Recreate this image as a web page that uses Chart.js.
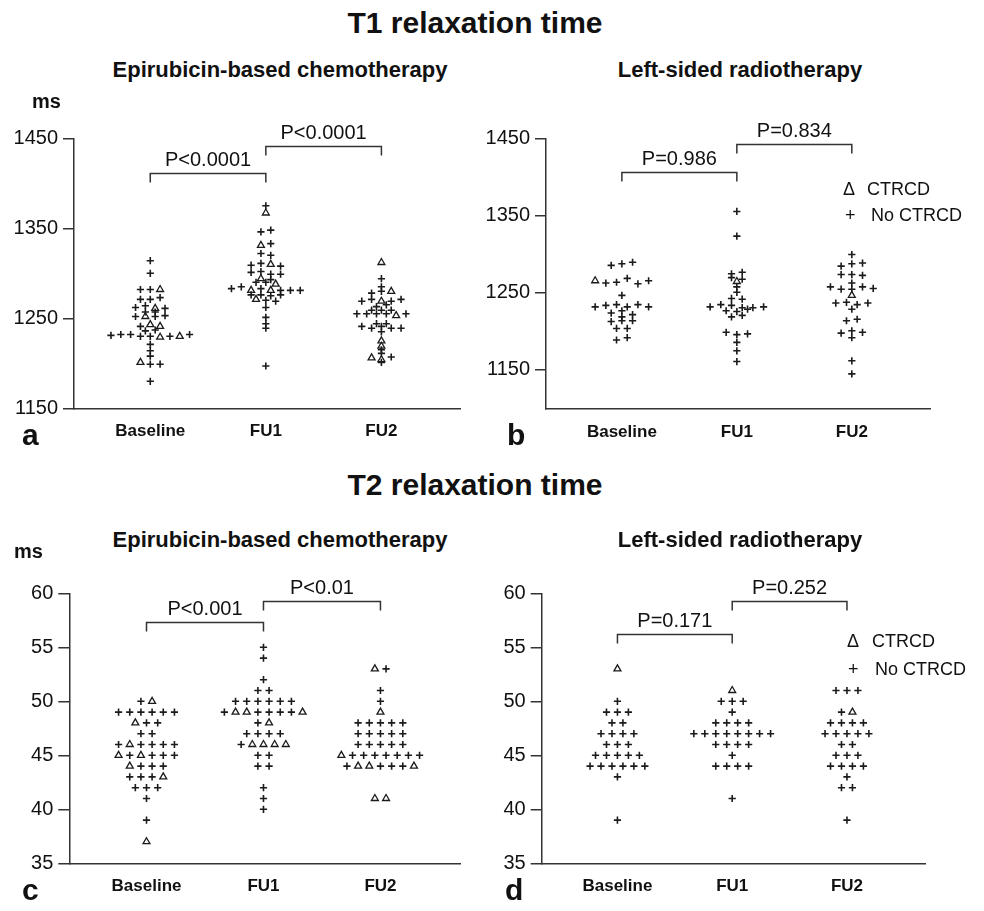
<!DOCTYPE html>
<html>
<head>
<meta charset="utf-8">
<script src="https://cdn.jsdelivr.net/npm/chart.js@4.4.1/dist/chart.umd.min.js"></script>
<style>
  html, body { margin: 0; padding: 0; background: #fff; }
  body { width: 984px; height: 911px; position: relative; overflow: hidden;
         font-family: "Liberation Sans", Arial, Helvetica, sans-serif; color: #111; }
  canvas { position: absolute; }
  .t { position: absolute; white-space: nowrap; line-height: 1; }
</style>
</head>
<body>
<canvas id="chemoT1"></canvas>
<canvas id="radioT1"></canvas>
<canvas id="chemoT2"></canvas>
<canvas id="radioT2"></canvas>
<script>
const FONT = '"Liberation Sans", Arial, Helvetica, sans-serif';
const groups = ['Baseline', 'FU1', 'FU2'];
const t1Ticks = [1150, 1250, 1350, 1450];
const t2Ticks = [35, 40, 45, 50, 55, 60];

// '+' = no CTRCD, '^' = CTRCD ; one entry per patient (T1) or per value (T2, one mark per patient)
const t1ChemoBase = [
  [1314,'+'], [1300,'+'],
  [1282,'+'], [1282,'+'], [1282,'^'],
  [1271,'+'], [1271,'+'], [1273,'+'],
  [1262,'+'], [1264,'+'], [1261,'^'], [1261,'+'],
  [1257,'+'], [1257,'+'],
  [1252,'+'], [1252,'^'], [1252,'+'], [1253,'+'],
  [1241,'+'], [1243,'^'], [1241,'^'],
  [1236,'+'], [1237,'+'],
  [1231,'+'], [1232,'+'], [1232,'+'], [1230,'+'], [1230,'+'], [1229,'^'], [1230,'+'], [1230,'^'], [1232,'+'],
  [1221,'+'], [1214,'+'], [1208,'+'],
  [1201,'^'], [1199,'+'], [1199,'+'],
  [1180,'+']
];
const t1ChemoFU1 = [
  [1375,'+'], [1367,'^'],
  [1346,'+'], [1348,'+'],
  [1331,'^'], [1333,'+'],
  [1322,'+'], [1320,'+'],
  [1309,'+'], [1311,'+'], [1310,'^'], [1308,'+'],
  [1301,'+'], [1302,'+'], [1299,'+'], [1299,'+'],
  [1294,'^'], [1293,'+'],
  [1290,'+'], [1290,'+'], [1288,'^'],
  [1283,'+'], [1285,'+'], [1281,'^'], [1283,'+'], [1281,'^'], [1281,'+'], [1281,'+'], [1281,'+'],
  [1276,'+'], [1276,'+'], [1275,'+'], [1276,'+'],
  [1271,'^'], [1270,'+'], [1269,'+'],
  [1262,'+'], [1251,'+'], [1244,'+'], [1239,'+'], [1197,'+']
];
const t1ChemoFU2 = [
  [1312,'^'], [1294,'+'], [1285,'+'],
  [1278,'+'], [1280,'+'], [1280,'^'],
  [1269,'+'], [1271,'+'], [1269,'^'], [1269,'+'], [1271,'+'],
  [1263,'+'], [1265,'+'],
  [1259,'+'], [1259,'+'], [1259,'+'],
  [1255,'+'], [1255,'+'], [1255,'+'], [1255,'+'], [1253,'^'], [1255,'+'],
  [1244,'+'], [1244,'+'],
  [1241,'+'], [1239,'+'], [1241,'+'], [1239,'+'], [1239,'+'],
  [1235,'+'], [1225,'^'], [1219,'^'], [1215,'+'], [1211,'+'],
  [1206,'^'], [1204,'^'], [1207,'+'],
  [1201,'+']
];
const t1RadioBase = [
  [1285,'+'], [1287,'+'], [1289,'+'],
  [1265,'^'], [1262,'+'], [1263,'+'], [1268,'+'], [1261,'+'], [1265,'+'],
  [1246,'+'],
  [1231,'+'], [1233,'+'], [1234,'+'], [1231,'+'], [1234,'+'], [1231,'+'],
  [1223,'+'], [1226,'+'], [1221,'+'],
  [1218,'+'],
  [1212,'+'], [1213,'+'], [1213,'+'],
  [1203,'+'], [1203,'+'],
  [1188,'+'], [1191,'+']
];
const t1RadioFU1 = [
  [1355,'+'], [1323,'+'],
  [1274,'+'], [1276,'+'],
  [1269,'+'], [1267,'+'],
  [1264,'^'], [1257,'+'], [1250,'+'],
  [1242,'+'], [1241,'+'],
  [1231,'+'], [1234,'+'], [1233,'+'], [1230,'+'], [1230,'+'], [1231,'+'],
  [1226,'+'], [1225,'+'], [1228,'+'],
  [1218,'+'], [1220,'+'],
  [1198,'+'], [1195,'+'], [1196,'+'],
  [1185,'+'], [1174,'+'], [1160,'+']
];
const t1RadioFU2 = [
  [1299,'+'],
  [1284,'+'], [1287,'+'], [1288,'+'],
  [1273,'+'], [1273,'+'], [1272,'+'],
  [1262,'+'],
  [1257,'+'], [1254,'+'], [1254,'+'], [1257,'+'], [1255,'+'],
  [1246,'^'],
  [1236,'+'], [1237,'+'], [1234,'+'], [1236,'+'],
  [1228,'+'],
  [1213,'+'], [1215,'+'],
  [1197,'+'], [1200,'+'], [1198,'+'],
  [1191,'+'], [1161,'+'], [1144,'+']
];

const t2ChemoBase = [[50,'+^'], [49,'++++++'], [48,'^++'], [47,'++'], [46,'+^++++'], [45,'^+^+++'],
  [44,'^+++'], [43,'+++^'], [42,'+++'], [41,'+'], [39,'+'], [37,'^']];
const t2ChemoFU1 = [[55,'+'], [54,'+'], [52,'+'], [51,'++'], [50,'++++++'], [49,'+^^++++^'], [48,'+^'],
  [47,'++++'], [46,'+^^^^'], [45,'++'], [44,'++'], [42,'+'], [41,'+'], [40,'+']];
const t2ChemoFU2 = [[53,'^+'], [51,'+'], [50,'+'], [49,'^'], [48,'+++++'], [47,'+++++'], [46,'+++++'],
  [45,'^+++++++'], [44,'+^^+++^'], [41,'^^']];
const t2RadioBase = [[53,'^'], [50,'+'], [49,'+++'], [48,'++'], [47,'++++'], [46,'+++'], [45,'+++++'],
  [44,'++++++'], [43,'+'], [39,'+']];
const t2RadioFU1 = [[51,'^'], [50,'+++'], [49,'+'], [48,'++++'], [47,'++++++++'], [46,'++++'], [45,'+'],
  [44,'++++'], [41,'+']];
const t2RadioFU2 = [[51,'+++'], [49,'+^'], [48,'++++'], [47,'+++++'], [46,'++'], [45,'+++'], [44,'++++'],
  [43,'+'], [42,'++'], [39,'+']];

const t1ChemoP = ['P<0.0001', 'P<0.0001'];
const t1RadioP = ['P=0.986', 'P=0.834'];
const t2ChemoP = ['P<0.001', 'P<0.01'];
const t2RadioP = ['P=0.171', 'P=0.252'];

// spread points of (nearly) equal value side by side, centred on the group
function swarm(entries, cat, step, thr) {
  const pts = [];
  entries.forEach(([v, marks]) => [...marks].forEach(m => pts.push({ v, m })));
  const rows = [];
  pts.forEach(p => {
    const row = rows[rows.length - 1];
    if (row && Math.abs(p.v - row[0].v) <= thr) row.push(p);
    else rows.push([p]);
  });
  const out = [];
  rows.forEach(row => row.forEach((p, i) => {
    out.push({ x: cat + (i - (row.length - 1) / 2) * step, y: p.v, m: p.m });
  }));
  return out;
}

const bracketPlugin = {
  id: 'brackets',
  afterDraw(chart, args, opts) {
    const { ctx, scales: { x, y } } = chart;
    ctx.save();
    ctx.strokeStyle = '#333';
    ctx.lineWidth = 1.5;
    ctx.fillStyle = '#111';
    ctx.font = '20px ' + FONT;
    ctx.textAlign = 'center';
    ctx.textBaseline = 'alphabetic';
    opts.items.forEach(b => {
      const x0 = x.getPixelForValue(b.from), x1 = x.getPixelForValue(b.to);
      const yy = Math.round(y.getPixelForValue(b.y)) + 0.5;
      ctx.beginPath();
      ctx.moveTo(x0, yy + 9); ctx.lineTo(x0, yy); ctx.lineTo(x1, yy); ctx.lineTo(x1, yy + 9);
      ctx.stroke();
      ctx.fillText(b.label, (x0 + x1) / 2, yy - 8);
    });
    ctx.restore();
  }
};

const panels = [
  { id: 'chemoT1', data: [t1ChemoBase, t1ChemoFU1, t1ChemoFU2], ticks: t1Ticks, yMin: 1150, yMax: 1450,
    thr: 2.5, step: 0.085, p: t1ChemoP, by: [1412, 1441],
    box: { left: 0, top: 100, width: 492, height: 350 }, area: { left: 74, right: 460, top: 138.3, bottom: 408.3 } },
  { id: 'radioT1', data: [t1RadioBase, t1RadioFU1, t1RadioFU2], ticks: t1Ticks, yMin: 1098.4, yMax: 1450,
    thr: 4, step: 0.093, p: t1RadioP, by: [1406.6, 1442.2],
    box: { left: 480, top: 100, width: 480, height: 350 }, area: { left: 546, right: 930, top: 138.3, bottom: 409 } },
  { id: 'chemoT2', data: [t2ChemoBase, t2ChemoFU1, t2ChemoFU2], ticks: t2Ticks, yMin: 35, yMax: 60,
    thr: 0.5, step: 0.0955, p: t2ChemoP, by: [57.37, 59.29],
    box: { left: 0, top: 555, width: 492, height: 350 }, area: { left: 69.3, right: 460, top: 593.3, bottom: 863.3 } },
  { id: 'radioT2', data: [t2RadioBase, t2RadioFU1, t2RadioFU2], ticks: t2Ticks, yMin: 35, yMax: 60,
    thr: 0.5, step: 0.0955, p: t2RadioP, by: [56.23, 59.29],
    box: { left: 480, top: 555, width: 480, height: 350 }, area: { left: 541.7, right: 925, top: 593.3, bottom: 863.3 } }
];

panels.forEach(pn => {
  const cv = document.getElementById(pn.id);
  cv.width = pn.box.width;
  cv.height = pn.box.height;
  cv.style.left = pn.box.left + 'px';
  cv.style.top = pn.box.top + 'px';

  let pts = [];
  pn.data.forEach((g, i) => { pts = pts.concat(swarm(g, i + 1, pn.step, pn.thr)); });

  new Chart(cv, {
    type: 'scatter',
    data: {
      datasets: [
        { label: 'No CTRCD', data: pts.filter(p => p.m === '+'), pointStyle: 'cross', pointRadius: 3.6,
          borderColor: '#1b1b1b', borderWidth: 1.6, backgroundColor: 'transparent', clip: false },
        { label: 'CTRCD', data: pts.filter(p => p.m === '^'), pointStyle: 'triangle', pointRadius: 4,
          borderColor: '#1b1b1b', borderWidth: 1.3, backgroundColor: '#fff', clip: false }
      ]
    },
    options: {
      responsive: false,
      animation: false,
      events: [],
      layout: { padding: { left: 0, bottom: 0,
        top: pn.area.top - pn.box.top,
        right: pn.box.left + pn.box.width - pn.area.right } },
      plugins: {
        legend: { display: false },
        tooltip: { enabled: false },
        brackets: { items: [
          { from: 1, to: 2, y: pn.by[0], label: pn.p[0] },
          { from: 2, to: 3, y: pn.by[1], label: pn.p[1] }
        ] }
      },
      scales: {
        x: {
          type: 'linear', min: 0.34, max: 3.68,
          afterBuildTicks: s => { s.ticks = [1, 2, 3].map(v => ({ value: v })); },
          afterFit: s => { s.height = pn.box.top + pn.box.height - pn.area.bottom; },
          grid: { display: false, drawTicks: false },
          border: { display: true, color: '#333', width: 1.5 },
          ticks: { callback: v => groups[v - 1], padding: 13, autoSkip: false, maxRotation: 0,
                   color: '#111', font: { family: FONT, size: 17, weight: 'bold' } }
        },
        y: {
          min: pn.yMin, max: pn.yMax,
          afterBuildTicks: s => { s.ticks = pn.ticks.map(v => ({ value: v })); },
          afterFit: s => { s.width = pn.area.left - pn.box.left; },
          grid: { display: true, drawOnChartArea: false, drawTicks: true, tickLength: 11, color: '#333', lineWidth: 1.5 },
          border: { display: true, color: '#333', width: 1.5 },
          ticks: { callback: v => String(v), padding: 5, color: '#111', font: { family: FONT, size: 20 } }
        }
      }
    },
    plugins: [bracketPlugin]
  });
});

function text(str, x, base, size, bold, center) {
  const d = document.createElement('div');
  d.className = 't';
  d.textContent = str;
  d.style.fontSize = size + 'px';
  d.style.fontWeight = bold ? 'bold' : 'normal';
  d.style.top = (base - 0.8465 * size) + 'px';
  d.style.left = x + 'px';
  if (center) d.style.transform = 'translateX(-50%)';
  document.body.appendChild(d);
}

text('T1 relaxation time', 475, 33, 30, true, true);
text('Epirubicin-based chemotherapy', 280, 78, 22, true, true);
text('Left-sided radiotherapy', 740, 78, 22, true, true);
text('ms', 32, 108, 20, true);
text('a', 22, 445, 30, true);
text('b', 507, 445, 30, true);
text('\u0394', 843, 195, 18, false);
text('CTRCD', 867, 195, 18, false);
text('+', 845, 221, 18, false);
text('No CTRCD', 871, 221, 18, false);

text('T2 relaxation time', 475, 495, 30, true, true);
text('Epirubicin-based chemotherapy', 280, 548, 22, true, true);
text('Left-sided radiotherapy', 740, 548, 22, true, true);
text('ms', 14, 558, 20, true);
text('c', 22, 900, 30, true);
text('d', 505, 900, 30, true);
text('\u0394', 847, 647, 18, false);
text('CTRCD', 872, 647, 18, false);
text('+', 848, 675, 18, false);
text('No CTRCD', 875, 675, 18, false);
</script>
</body>
</html>
